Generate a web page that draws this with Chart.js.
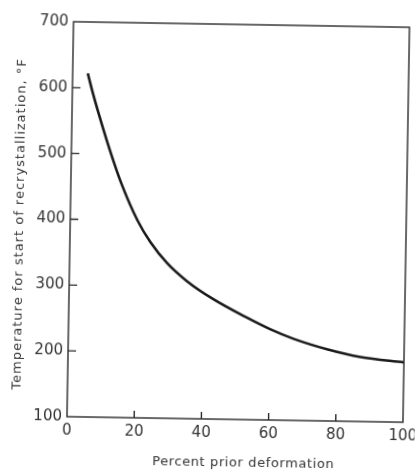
<!DOCTYPE html>
<html>
<head>
<meta charset="utf-8">
<script src="https://cdn.jsdelivr.net/npm/chart.js@4/dist/chart.umd.min.js"></script>
<style>
  html, body { margin: 0; padding: 0; background: #fff; overflow: hidden; }
  #wrap { width: 418px; height: 472px; transform: rotate(0.95deg); }
</style>
</head>
<body>
<div id="wrap"><canvas id="myChart" width="418" height="472"></canvas></div>
<script>
// percent prior deformation vs temperature for start of recrystallization (F)
const deformation = [4.5, 6, 8, 11.5, 15, 20, 24, 29, 35, 43, 53, 60, 67, 77, 87, 100];
const temperature = [622, 594, 560, 505, 456, 400, 367, 336, 309, 282, 255, 238, 224, 209, 198, 191];
const xTicks = [0, 20, 40, 60, 80, 100];
const yTicks = [100, 200, 300, 400, 500, 600, 700];
const xTitle = 'Percent prior deformation';
const yTitle = 'Temperature for start of recrystallization, °F';

const ink = '#1a1a1a';
const textInk = '#333';

// frame box, inward tick marks and the two axis titles
const frame = {
  id: 'frame',
  afterDraw(chart) {
    const c = chart.ctx, a = chart.chartArea;
    const xs = chart.scales.x, ys = chart.scales.y;
    c.save();
    c.strokeStyle = '#2a2a2a';
    c.lineWidth = 1.4;
    c.strokeRect(a.left, a.top, a.right - a.left, a.bottom - a.top);
    c.beginPath();
    yTicks.slice(1, -1).forEach(v => {
      const py = ys.getPixelForValue(v);
      c.moveTo(a.left, py);
      c.lineTo(a.left + 8, py);
    });
    xTicks.slice(1, -1).forEach(v => {
      const px = xs.getPixelForValue(v);
      c.moveTo(px, a.bottom);
      c.lineTo(px, a.bottom - 7);
    });
    c.stroke();

    c.fillStyle = textInk;
    c.textAlign = 'center';
    c.textBaseline = 'middle';
    c.font = '13px "DejaVu Sans"';
    c.letterSpacing = '0.6px';
    c.fillText(xTitle, 247, 463);
    c.letterSpacing = '1px';
    c.translate(20, 227);
    c.rotate(-Math.PI / 2);
    c.fillText(yTitle, 0, 0);
    c.restore();
  }
};

const ctx = document.getElementById('myChart');
new Chart(ctx, {
  type: 'line',
  data: {
    datasets: [{
      data: deformation.map((d, i) => ({ x: d, y: temperature[i] })),
      borderColor: ink,
      borderWidth: 2.6,
      pointRadius: 0,
      cubicInterpolationMode: 'monotone',
      fill: false
    }]
  },
  options: {
    responsive: false,
    animation: false,
    layout: { padding: { top: 24, right: 12, left: 0, bottom: 0 } },
    plugins: { legend: { display: false }, tooltip: { enabled: false } },
    scales: {
      x: {
        type: 'linear',
        min: 0,
        max: 100,
        afterBuildTicks: (s) => { s.ticks = xTicks.map(v => ({ value: v })); },
        afterFit: (s) => { s.height = 53; s.paddingLeft = 0; s.paddingRight = 0; },
        grid: { display: false, drawTicks: false },
        border: { display: false },
        ticks: { color: textInk, padding: 5, font: { family: 'DejaVu Sans', size: 15 }, maxRotation: 0 }
      },
      y: {
        min: 100,
        max: 700,
        afterBuildTicks: (s) => { s.ticks = yTicks.map(v => ({ value: v })); },
        afterFit: (s) => { s.width = 70; s.paddingTop = 0; s.paddingBottom = 0; },
        grid: { display: false, drawTicks: false },
        border: { display: false },
        ticks: { color: textInk, padding: 5, font: { family: 'DejaVu Sans', size: 15 } }
      }
    }
  },
  plugins: [frame]
});
</script>
</body>
</html>
